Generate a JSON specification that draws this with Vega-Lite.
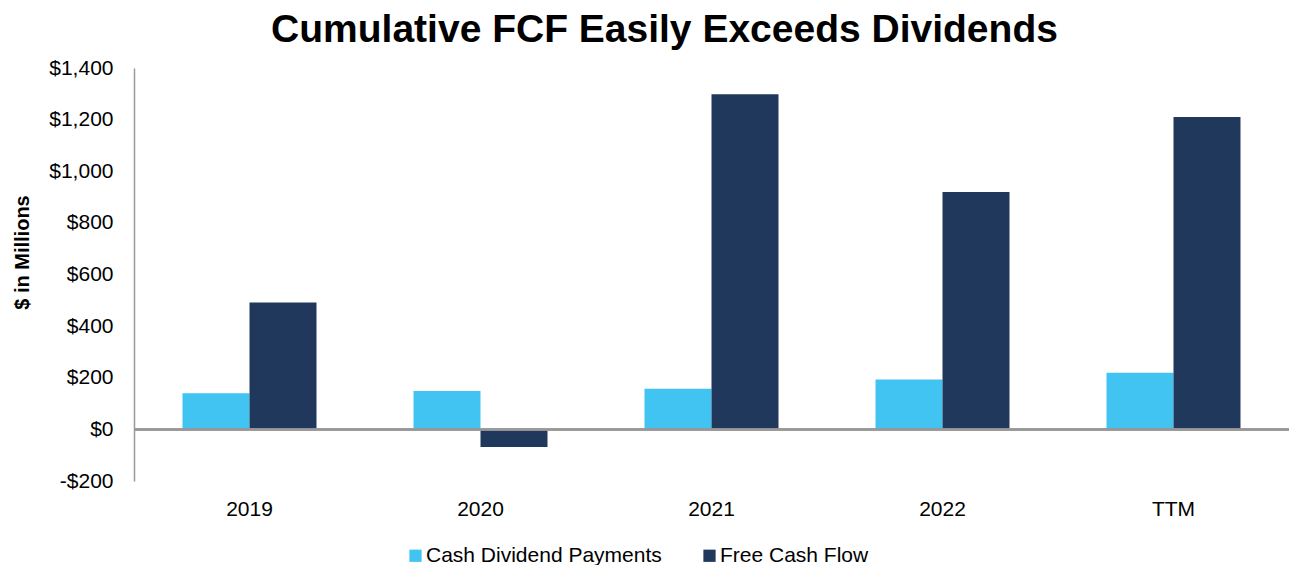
{
  "$schema": "https://vega.github.io/schema/vega-lite/v6.json",
  "width": 1155,
  "height": 413,
  "autosize": {"type": "none"},
  "padding": {"left": 134, "top": 68, "right": 0, "bottom": 84},
  "background": "#ffffff",
  "config": {"view": {"stroke": null}, "font": "Liberation Sans"},
  "title": {
    "text": "Cumulative FCF Easily Exceeds Dividends",
    "fontSize": 39,
    "fontWeight": "bold",
    "font": "Liberation Sans",
    "color": "#000000",
    "anchor": "middle",
    "dx": -47,
    "offset": 7
  },
  "data": {
    "values": [
      {"period": "2019", "series": "Cash Dividend Payments", "value": 140},
      {"period": "2019", "series": "Free Cash Flow", "value": 492},
      {"period": "2020", "series": "Cash Dividend Payments", "value": 149},
      {"period": "2020", "series": "Free Cash Flow", "value": -68},
      {"period": "2021", "series": "Cash Dividend Payments", "value": 157},
      {"period": "2021", "series": "Free Cash Flow", "value": 1298},
      {"period": "2022", "series": "Cash Dividend Payments", "value": 193},
      {"period": "2022", "series": "Free Cash Flow", "value": 920},
      {"period": "TTM", "series": "Cash Dividend Payments", "value": 219},
      {"period": "TTM", "series": "Free Cash Flow", "value": 1210}
    ]
  },
  "layer": [
    {
      "mark": {"type": "bar"},
      "encoding": {
        "x": {
          "field": "period",
          "type": "nominal",
          "sort": ["2019", "2020", "2021", "2022", "TTM"],
          "scale": {"paddingInner": 0.42, "paddingOuter": 0.21},
          "axis": {
            "title": null,
            "domain": false,
            "ticks": false,
            "labelAngle": 0,
            "labelFontSize": 21,
            "labelColor": "#000000",
            "labelPadding": 17
          }
        },
        "xOffset": {
          "field": "series",
          "type": "nominal",
          "sort": ["Cash Dividend Payments", "Free Cash Flow"],
          "scale": {"paddingInner": 0, "paddingOuter": 0}
        },
        "y": {
          "field": "value",
          "type": "quantitative",
          "scale": {"domain": [-200, 1400], "nice": false, "zero": false},
          "axis": {
            "title": "$ in Millions",
            "titleFontSize": 20,
            "titleFontWeight": "bold",
            "titleColor": "#000000",
            "titleX": -112,
            "titleY": 184,
            "titleAngle": -90,
            "titleAlign": "center",
            "titleBaseline": "middle",
            "values": [-200, 0, 200, 400, 600, 800, 1000, 1200, 1400],
            "labelExpr": "datum.value < 0 ? '-$' + format(-datum.value, ',') : '$' + format(datum.value, ',')",
            "labelFontSize": 21,
            "labelColor": "#000000",
            "labelPadding": 21,
            "ticks": false,
            "grid": false,
            "domainColor": "#999999",
            "domainWidth": 1.5
          }
        },
        "color": {
          "field": "series",
          "type": "nominal",
          "scale": {
            "domain": ["Cash Dividend Payments", "Free Cash Flow"],
            "range": ["#41C4F2", "#1F385C"]
          },
          "legend": {
            "title": null,
            "orient": "none",
            "direction": "horizontal",
            "legendX": 271,
            "legendY": 477,
            "symbolType": "square",
            "symbolSize": 150,
            "symbolStrokeWidth": 0,
            "labelFontSize": 21,
            "labelColor": "#000000",
            "labelOffset": 0,
            "columnPadding": 37,
            "labelLimit": 400
          }
        }
      }
    },
    {
      "mark": {"type": "rule", "color": "#999999", "strokeWidth": 1.5},
      "encoding": {"y": {"datum": 0}}
    }
  ]
}
